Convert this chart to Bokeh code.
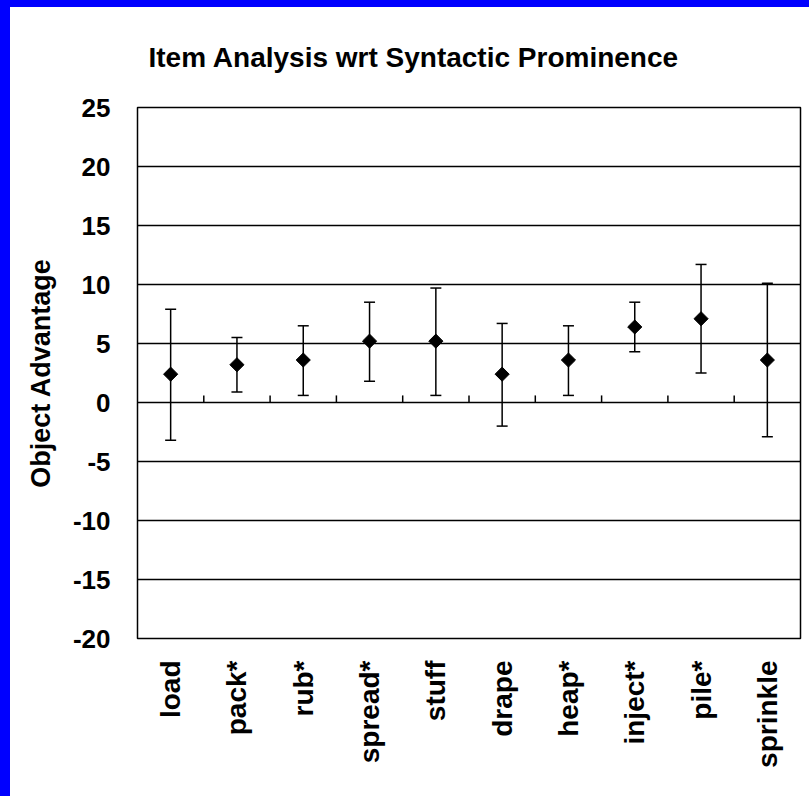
from math import pi
from bokeh.plotting import figure
from bokeh.models import ColumnDataSource, FactorRange, FixedTicker, Whisker, TeeHead
from bokeh.embed import file_html
from bokeh.resources import INLINE

categories = ["load", "pack*", "rub*", "spread*", "stuff", "drape", "heap*", "inject*", "pile*", "sprinkle"]
means = [2.4, 3.2, 3.6, 5.2, 5.2, 2.4, 3.6, 6.4, 7.1, 3.6]
lower = [-3.2, 0.9, 0.6, 1.8, 0.6, -2.0, 0.6, 4.3, 2.5, -2.9]
upper = [7.9, 5.5, 6.5, 8.5, 9.7, 6.7, 6.5, 8.5, 11.7, 10.1]
y_ticks = [-20, -15, -10, -5, 0, 5, 10, 15, 20, 25]
y_tick_labels = ["-20", "-15", "-10", "-5", "0", "5", "10", "15", "20", "25"]

FONT = "Liberation Sans"
BLUE = "#0000FF"

src = ColumnDataSource(dict(cat=categories, mean=means, lower=lower, upper=upper))

p = figure(width=809, height=796, output_backend="svg", toolbar_location=None,
           x_range=FactorRange(*categories, range_padding=0), y_range=(-20, 25),
           min_border_left=137, min_border_right=9, min_border_top=107, min_border_bottom=158,
           background_fill_color="white", border_fill_color=None)
# page background: blue strips along the top and left edges, white elsewhere
p.styles = {"background": (f"linear-gradient(to right, {BLUE} 10px, transparent 10px), "
                           f"linear-gradient(to bottom, {BLUE} 7px, white 7px)")}

p.title.text = "Item Analysis wrt Syntactic Prominence"
p.title.text_font = FONT
p.title.text_font_size = "28px"
p.title.text_font_style = "bold"
p.title.text_color = "black"
p.title.align = "left"
p.title.offset = 11
p.title.standoff = 70

p.outline_line_color = "black"
p.outline_line_width = 1.5

p.xgrid.grid_line_color = None
p.ygrid.grid_line_color = "black"
p.ygrid.grid_line_width = 1.4
p.ygrid.ticker = FixedTicker(ticks=y_ticks)

ya = p.yaxis[0]
ya.ticker = FixedTicker(ticks=y_ticks)
ya.major_label_overrides = {t: l for t, l in zip(y_ticks, y_tick_labels)}
ya.axis_line_color = None
ya.major_tick_line_color = None
ya.minor_tick_line_color = None
ya.major_tick_out = 0
ya.major_tick_in = 0
ya.minor_tick_out = 0
ya.major_label_standoff = 27
ya.major_label_text_font = FONT
ya.major_label_text_font_size = "26px"
ya.major_label_text_font_style = "bold"
ya.major_label_text_color = "black"
ya.axis_label = "Object Advantage"
ya.axis_label_text_font = FONT
ya.axis_label_text_font_size = "27px"
ya.axis_label_text_font_style = "bold"
ya.axis_label_text_color = "black"
ya.axis_label_standoff = 14

xa = p.xaxis[0]
xa.axis_line_color = None
xa.major_tick_line_color = None
xa.minor_tick_line_color = None
xa.major_tick_out = 0
xa.major_tick_in = 0
xa.major_label_orientation = pi / 2
xa.major_label_standoff = 22
xa.major_label_text_font = FONT
xa.major_label_text_font_size = "28px"
xa.major_label_text_font_style = "bold"
xa.major_label_text_color = "black"

# small tick marks on the zero line between categories
bounds = list(range(1, len(categories)))
p.segment(x0=bounds, x1=bounds, y0=[0] * len(bounds), y1=[0.6] * len(bounds),
          line_color="black", line_width=1.5)

w = Whisker(base="cat", upper="upper", lower="lower", source=src,
            line_color="black", line_width=1.5,
            upper_head=TeeHead(size=11, line_color="black", line_width=1.5),
            lower_head=TeeHead(size=11, line_color="black", line_width=1.5))
p.add_layout(w)

p.scatter(x="cat", y="mean", source=src, marker="square", angle=pi / 4, size=10,
          fill_color="black", line_color="black")

open("out.html", "w").write(file_html(p, INLINE))
